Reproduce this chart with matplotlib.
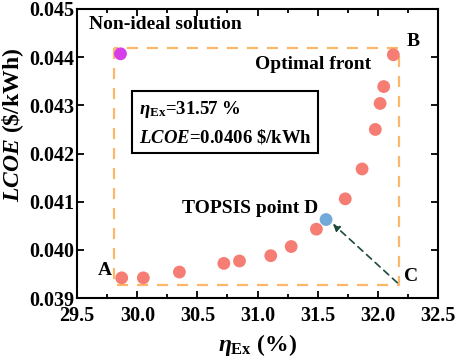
import matplotlib
matplotlib.use('Agg')
import matplotlib.pyplot as plt
from matplotlib.ticker import MultipleLocator

plt.rcParams['font.family'] = 'Liberation Serif'
plt.rcParams['font.weight'] = 'bold'
plt.rcParams['mathtext.fontset'] = 'custom'
plt.rcParams['mathtext.rm'] = 'Liberation Serif:bold'
plt.rcParams['mathtext.it'] = 'Liberation Serif:italic:bold'
plt.rcParams['mathtext.bf'] = 'Liberation Serif:bold'

# Pareto front points
eta_ex = [29.87, 30.05, 30.35, 30.72, 30.85, 31.11, 31.28, 31.49, 31.73, 31.87, 31.98, 32.02, 32.05, 32.13]
lcoe = [0.03942, 0.03942, 0.03954, 0.03972, 0.03977, 0.03988, 0.04007, 0.04043, 0.04106, 0.04168, 0.04250, 0.04304, 0.04339, 0.04405]

# special points
nonideal_x, nonideal_y = 29.86, 0.04407
topsis_x, topsis_y = 31.57, 0.04063

# dashed frame corners
frame_x = [29.81, 32.18]
frame_y = [0.03928, 0.04419]

xticks = [29.5, 30.0, 30.5, 31.0, 31.5, 32.0, 32.5]
yticks = [0.039, 0.040, 0.041, 0.042, 0.043, 0.044, 0.045]

fig = plt.figure(figsize=(4.57, 3.6), dpi=100)
ax = fig.add_axes([0.169, 0.172, 0.789, 0.803])

ax.plot([frame_x[0], frame_x[0], frame_x[1], frame_x[1], frame_x[0]],
        [frame_y[1], frame_y[0], frame_y[0], frame_y[1], frame_y[1]],
        color='#fdb768', linestyle=(0, (5, 4)), linewidth=1.6, zorder=1)

ax.scatter(eta_ex, lcoe, s=85, color='#f57d73', edgecolors='none', zorder=3)
ax.scatter([nonideal_x], [nonideal_y], s=85, color='#d53ee8', edgecolors='none', zorder=3)
ax.scatter([topsis_x], [topsis_y], s=85, color='#71a9d9', edgecolors='none', zorder=3)

ax.annotate('', xy=(topsis_x + 0.04, topsis_y - 0.00005), xytext=(frame_x[1], frame_y[0]),
            arrowprops=dict(arrowstyle='-|>', color='#1d4a3a', linestyle=(0, (4, 3)),
                            linewidth=1.2, mutation_scale=10), zorder=2)

fs = 14
ax.text(29.6, 0.04468, 'Non-ideal solution', fontsize=fs, fontweight='bold', ha='left', va='center')
ax.text(32.24, 0.04432, 'B', fontsize=fs, fontweight='bold', ha='left', va='center')
ax.text(30.98, 0.04384, 'Optimal front', fontsize=fs, fontweight='bold', ha='left', va='center')
ax.text(30.37, 0.04085, 'TOPSIS point D', fontsize=fs, fontweight='bold', ha='left', va='center')
ax.text(29.73, 0.03958, 'A', fontsize=fs, fontweight='bold', ha='center', va='center')
ax.text(32.28, 0.03944, 'C', fontsize=fs, fontweight='bold', ha='center', va='center')

ax.text(30.01, 0.04264, r'$\eta_{\mathrm{Ex}}$=31.57 %' + '\n' + r'$LCOE$=0.0406 \$/kWh',
        fontsize=13.5, fontweight='bold', ha='left', va='center', linespacing=1.45,
        bbox=dict(boxstyle='square,pad=0.35', facecolor='white', edgecolor='black', linewidth=1.5))

ax.set_xlim(29.5, 32.5)
ax.set_ylim(0.039, 0.045)
ax.xaxis.set_minor_locator(MultipleLocator(0.25))
ax.set_xticks(xticks)
ax.set_xticklabels([f'{v:.1f}' for v in xticks], fontsize=14.5, fontweight='bold')
ax.set_yticks(yticks)
ax.set_yticklabels([f'{v:.3f}' for v in yticks], fontsize=14.5, fontweight='bold')
ax.tick_params(which='both', direction='in', top=True, right=True, width=1.3)
ax.tick_params(which='major', length=5)
ax.tick_params(which='minor', length=3)
ax.tick_params(axis='x', pad=6)
ax.tick_params(axis='y', pad=2)
for sp in ax.spines.values():
    sp.set_linewidth(1.5)

ax.set_xlabel(r'$\eta_{\mathrm{Ex}}$ (%)', fontsize=17, fontweight='bold', labelpad=4)
ax.set_ylabel(r'$LCOE$ (\$/kWh)', fontsize=17, fontweight='bold')
ax.yaxis.set_label_coords(-0.142, 0.60)

fig.savefig('out.png', dpi=100)
